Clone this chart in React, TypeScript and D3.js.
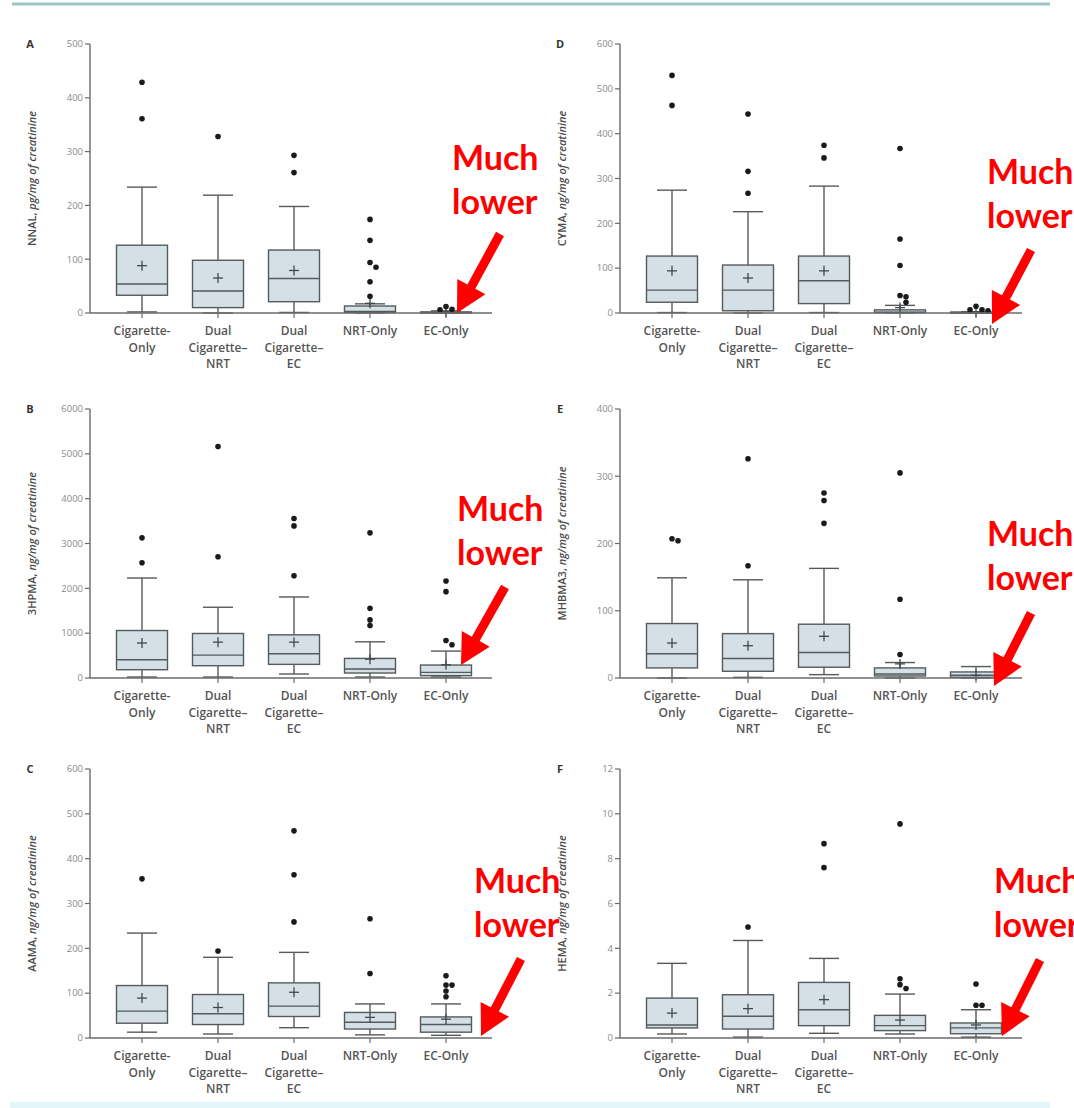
import React from 'react';
import * as d3 from 'd3';

// ---------- data ----------
const categories = ['Cigarette-Only', 'Dual Cigarette–NRT', 'Dual Cigarette–EC', 'NRT-Only', 'EC-Only'];
const categoryLines = [['Cigarette-', 'Only'], ['Dual', 'Cigarette–', 'NRT'], ['Dual', 'Cigarette–', 'EC'], ['NRT-Only'], ['EC-Only']];

// A: NNAL, pg/mg of creatinine
const nnalTicks = [0, 100, 200, 300, 400, 500];
const nnalLow = [2, 0, 1, 0, 0];
const nnalQ1 = [33, 10, 21, 1, 0];
const nnalMedian = [54, 41, 64, 3, 1];
const nnalQ3 = [126, 98, 117, 13, 2];
const nnalHigh = [234, 219, 198, 17, 4];
const nnalMean = [88, 65, 79, 18, 2];
const nnalOutliers = [[429, 361], [328], [293, 261], [174, 135, 94, 85, 58, 31], [12, 7, 6]];

// B: 3HPMA, ng/mg of creatinine
const hpmaTicks = [0, 1000, 2000, 3000, 4000, 5000, 6000];
const hpmaLow = [22, 22, 89, 22, 22];
const hpmaQ1 = [185, 274, 304, 111, 52];
const hpmaMedian = [407, 511, 541, 200, 126];
const hpmaQ3 = [1059, 993, 963, 437, 289];
const hpmaHigh = [2230, 1578, 1807, 807, 600];
const hpmaMean = [780, 800, 800, 420, 296];
const hpmaOutliers = [[3126, 2570], [5163, 2704], [3556, 3393, 2281], [3237, 1556, 1296, 1170], [2163, 1926, 837, 741]];

// C: AAMA, ng/mg of creatinine
const aamaTicks = [0, 100, 200, 300, 400, 500, 600];
const aamaLow = [13, 9, 23, 7, 6];
const aamaQ1 = [33, 30, 48, 20, 13];
const aamaMedian = [60, 54, 71, 35, 30];
const aamaQ3 = [117, 97, 123, 57, 47];
const aamaHigh = [234, 180, 191, 76, 76];
const aamaMean = [89, 68, 102, 46, 42];
const aamaOutliers = [[355], [194], [462, 364, 259], [266, 144], [139, 118, 118, 105, 92]];

// D: CYMA, ng/mg of creatinine
const cymaTicks = [0, 100, 200, 300, 400, 500, 600];
const cymaLow = [1, 0, 1, 0, 0];
const cymaQ1 = [24, 5, 21, 1, 0];
const cymaMedian = [51, 51, 72, 2, 1];
const cymaQ3 = [127, 107, 127, 7, 2];
const cymaHigh = [274, 226, 283, 17, 3];
const cymaMean = [94, 78, 94, 12, 2];
const cymaOutliers = [[530, 463], [444, 316, 267], [374, 346], [367, 165, 106, 39, 36, 24], [15, 7, 7, 5]];

// E: MHBMA3, ng/mg of creatinine
const mhbmaTicks = [0, 100, 200, 300, 400];
const mhbmaLow = [0, 1, 5, 0, 0];
const mhbmaQ1 = [15, 10, 16, 3, 1];
const mhbmaMedian = [36, 29, 38, 6, 4];
const mhbmaQ3 = [81, 66, 80, 15, 9];
const mhbmaHigh = [149, 146, 163, 23, 17];
const mhbmaMean = [52, 48, 62, 21, 4];
const mhbmaOutliers = [[207, 204], [326, 167], [275, 264, 230], [305, 117, 35], []];

// F: HEMA, ng/mg of creatinine
const hemaTicks = [0, 2, 4, 6, 8, 10, 12];
const hemaLow = [0.18, 0.04, 0.21, 0.18, 0.04];
const hemaQ1 = [0.45, 0.4, 0.55, 0.33, 0.19];
const hemaMedian = [0.58, 0.97, 1.26, 0.55, 0.45];
const hemaQ3 = [1.78, 1.93, 2.48, 1.01, 0.67];
const hemaHigh = [3.33, 4.35, 3.55, 1.96, 1.26];
const hemaMean = [1.11, 1.31, 1.71, 0.8, 0.58];
const hemaOutliers = [[], [4.95], [8.67, 7.6], [9.55, 2.64, 2.38, 2.21], [2.41, 1.46, 1.46]];

const annotationLines = ['Much', 'lower'];

// ---------- layout ----------
const W = 1074;
const H = 1108;
const colX = [0, 530];
const rowY = [0, 365, 725];
const AX = 90; // y axis x within panel
const TOP = 44;
const ZERO = 313;
const CAT0 = 142;
const CAT1 = 446;
const AXIS_END = 492;
const BOX_W = 51;
const CAP_W = 30;

type Panel = {
  letter: string; analyte: string; unit: string; col: number; row: number;
  ticks: number[]; low: number[]; q1: number[]; median: number[]; q3: number[]; high: number[]; mean: number[]; outliers: number[][];
  ann: { tx: number; ty: number; x1: number; y1: number; x2: number; y2: number };
};

const panels: Panel[] = [
  { letter: 'A', analyte: 'NNAL', unit: 'pg/mg of creatinine', col: 0, row: 0, ticks: nnalTicks, low: nnalLow, q1: nnalQ1, median: nnalMedian, q3: nnalQ3, high: nnalHigh, mean: nnalMean, outliers: nnalOutliers,
    ann: { tx: 452, ty: 170, x1: 500, y1: 234, x2: 457, y2: 313 } },
  { letter: 'B', analyte: '3HPMA', unit: 'ng/mg of creatinine', col: 0, row: 1, ticks: hpmaTicks, low: hpmaLow, q1: hpmaQ1, median: hpmaMedian, q3: hpmaQ3, high: hpmaHigh, mean: hpmaMean, outliers: hpmaOutliers,
    ann: { tx: 457, ty: 156, x1: 505, y1: 222, x2: 461, y2: 300 } },
  { letter: 'C', analyte: 'AAMA', unit: 'ng/mg of creatinine', col: 0, row: 2, ticks: aamaTicks, low: aamaLow, q1: aamaQ1, median: aamaMedian, q3: aamaQ3, high: aamaHigh, mean: aamaMean, outliers: aamaOutliers,
    ann: { tx: 474, ty: 168, x1: 521, y1: 234, x2: 481, y2: 311 } },
  { letter: 'D', analyte: 'CYMA', unit: 'ng/mg of creatinine', col: 1, row: 0, ticks: cymaTicks, low: cymaLow, q1: cymaQ1, median: cymaMedian, q3: cymaQ3, high: cymaHigh, mean: cymaMean, outliers: cymaOutliers,
    ann: { tx: 457, ty: 184, x1: 501, y1: 250, x2: 462, y2: 324 } },
  { letter: 'E', analyte: 'MHBMA3', unit: 'ng/mg of creatinine', col: 1, row: 1, ticks: mhbmaTicks, low: mhbmaLow, q1: mhbmaQ1, median: mhbmaMedian, q3: mhbmaQ3, high: mhbmaHigh, mean: mhbmaMean, outliers: mhbmaOutliers,
    ann: { tx: 457, ty: 181, x1: 501, y1: 248, x2: 464, y2: 321 } },
  { letter: 'F', analyte: 'HEMA', unit: 'ng/mg of creatinine', col: 1, row: 2, ticks: hemaTicks, low: hemaLow, q1: hemaQ1, median: hemaMedian, q3: hemaQ3, high: hemaHigh, mean: hemaMean, outliers: hemaOutliers,
    ann: { tx: 464, ty: 168, x1: 510, y1: 235, x2: 472, y2: 311 } },
];

const AXIS_COLOR = '#6b6b6b';
const BOX_STROKE = '#555a5c';
const BOX_FILL = '#d4e0e6';
const LABEL_COLOR = '#555';
const FONT = "'Open Sans', 'DejaVu Sans', sans-serif";

function arrowPoints(x1: number, y1: number, x2: number, y2: number) {
  const dx = x2 - x1, dy = y2 - y1;
  const len = Math.hypot(dx, dy);
  const ux = dx / len, uy = dy / len;
  const nx = -uy, ny = ux;
  const sw = 4.5, hl = 30, hw = 16;
  const bx = x2 - ux * hl, by = y2 - uy * hl;
  const pts = [
    [x1 + nx * sw, y1 + ny * sw],
    [bx + nx * sw, by + ny * sw],
    [bx + nx * hw, by + ny * hw],
    [x2, y2],
    [bx - nx * hw, by - ny * hw],
    [bx - nx * sw, by - ny * sw],
    [x1 - nx * sw, y1 - ny * sw],
  ];
  return pts.map((p) => p.join(',')).join(' ');
}

function placeDots(values: number[], y: (v: number) => number) {
  const sorted = [...values].sort((a, b) => b - a);
  const placed: { dx: number; cy: number }[] = [];
  const offs = [0, 6, -6, 12, -12];
  sorted.forEach((v) => {
    const cy = y(v);
    const near = placed.filter((p) => Math.abs(p.cy - cy) < 5.5).length;
    placed.push({ dx: offs[near % offs.length], cy });
  });
  return placed;
}

function PanelView({ p }: { p: Panel }) {
  const ox = colX[p.col];
  const oy = rowY[p.row];
  const y = d3.scaleLinear().domain([0, p.ticks[p.ticks.length - 1]]).range([ZERO, TOP]);
  const x = d3.scalePoint<string>().domain(categories).range([CAT0, CAT1]);
  const fmt = d3.format('d');
  return (
    <g transform={`translate(${ox},${oy})`}>
      {/* panel letter */}
      <text x={30} y={TOP + 4} fontFamily={FONT} fontSize={11} fontWeight={700} fill="#333" textAnchor="middle">{p.letter}</text>
      {/* y axis */}
      <line x1={AX} x2={AX} y1={TOP} y2={ZERO} stroke={AXIS_COLOR} strokeWidth={1.4} />
      {p.ticks.map((t) => (
        <g key={t}>
          <line x1={AX - 5} x2={AX} y1={y(t)} y2={y(t)} stroke={AXIS_COLOR} strokeWidth={1.2} />
          <text x={AX - 7} y={y(t)} dy="0.35em" textAnchor="end" fontFamily={FONT} fontSize={9.5} fill="#8a8a8a">{fmt(t)}</text>
        </g>
      ))}
      {/* y title */}
      <text transform={`translate(${36},${(TOP + ZERO) / 2}) rotate(-90)`} textAnchor="middle" fontFamily={FONT} fontSize={11} fontWeight={600} fill="#4a4a4a">
        <tspan>{p.analyte}, </tspan>
        <tspan fontStyle="italic">{p.unit}</tspan>
      </text>
      {/* boxes */}
      {categories.map((c, i) => {
        const cx = x(c) as number;
        const dots = placeDots(p.outliers[i], y);
        return (
          <g key={c}>
            <line x1={cx} x2={cx} y1={y(p.high[i])} y2={y(p.q3[i])} stroke={BOX_STROKE} strokeWidth={1.4} />
            <line x1={cx} x2={cx} y1={y(p.q1[i])} y2={y(p.low[i])} stroke={BOX_STROKE} strokeWidth={1.4} />
            <line x1={cx - CAP_W / 2} x2={cx + CAP_W / 2} y1={y(p.high[i])} y2={y(p.high[i])} stroke={BOX_STROKE} strokeWidth={1.4} />
            <line x1={cx - CAP_W / 2} x2={cx + CAP_W / 2} y1={y(p.low[i])} y2={y(p.low[i])} stroke={BOX_STROKE} strokeWidth={1.4} />
            <rect x={cx - BOX_W / 2} y={y(p.q3[i])} width={BOX_W} height={Math.max(1, y(p.q1[i]) - y(p.q3[i]))} fill={BOX_FILL} stroke={BOX_STROKE} strokeWidth={1.4} />
            <line x1={cx - BOX_W / 2} x2={cx + BOX_W / 2} y1={y(p.median[i])} y2={y(p.median[i])} stroke={BOX_STROKE} strokeWidth={1.4} />
            <line x1={cx - 5} x2={cx + 5} y1={y(p.mean[i])} y2={y(p.mean[i])} stroke="#3d4a4f" strokeWidth={1.3} />
            <line x1={cx} x2={cx} y1={y(p.mean[i]) - 5} y2={y(p.mean[i]) + 5} stroke="#3d4a4f" strokeWidth={1.3} />
            {dots.map((d, k) => (
              <circle key={k} cx={cx + d.dx} cy={d.cy} r={2.8} fill="#1a1a1a" />
            ))}
          </g>
        );
      })}
      {/* x axis */}
      <line x1={AX} x2={AXIS_END} y1={ZERO} y2={ZERO} stroke={AXIS_COLOR} strokeWidth={1.4} />
      {categories.map((c, i) => {
        const cx = x(c) as number;
        return (
          <g key={c}>
            <line x1={cx} x2={cx} y1={ZERO} y2={ZERO + 5} stroke={AXIS_COLOR} strokeWidth={1.2} />
            <text textAnchor="middle" fontFamily={FONT} fontSize={12} fontWeight={600} fill={LABEL_COLOR}>
              {categoryLines[i].map((ln, k) => (
                <tspan key={k} x={cx} y={ZERO + 22 + k * 16.5}>{ln}</tspan>
              ))}
            </text>
          </g>
        );
      })}
      {/* annotation */}
      <text fontFamily="Lato, 'Open Sans', sans-serif" fontSize={34} fontWeight={700} fill="#ff0000">
        {annotationLines.map((ln, k) => (
          <tspan key={k} x={p.ann.tx} y={p.ann.ty + k * 44}>{ln}</tspan>
        ))}
      </text>
      <polygon points={arrowPoints(p.ann.x1, p.ann.y1, p.ann.x2, p.ann.y2)} fill="#ff0000" />
    </g>
  );
}

export default function App() {
  return (
    <svg width={W} height={H} viewBox={`0 0 ${W} ${H}`} style={{ position: 'absolute', left: 0, top: 0, background: '#fff' }}>
      <rect x={0} y={0} width={W} height={H} fill="#fff" />
      <line x1={12} x2={1050} y1={4} y2={4} stroke="#9ec6c6" strokeWidth={3} />
      <rect x={10} y={1102} width={1040} height={6} fill="#e2f6f9" />
      {panels.map((p) => (
        <PanelView key={p.letter} p={p} />
      ))}
    </svg>
  );
}
